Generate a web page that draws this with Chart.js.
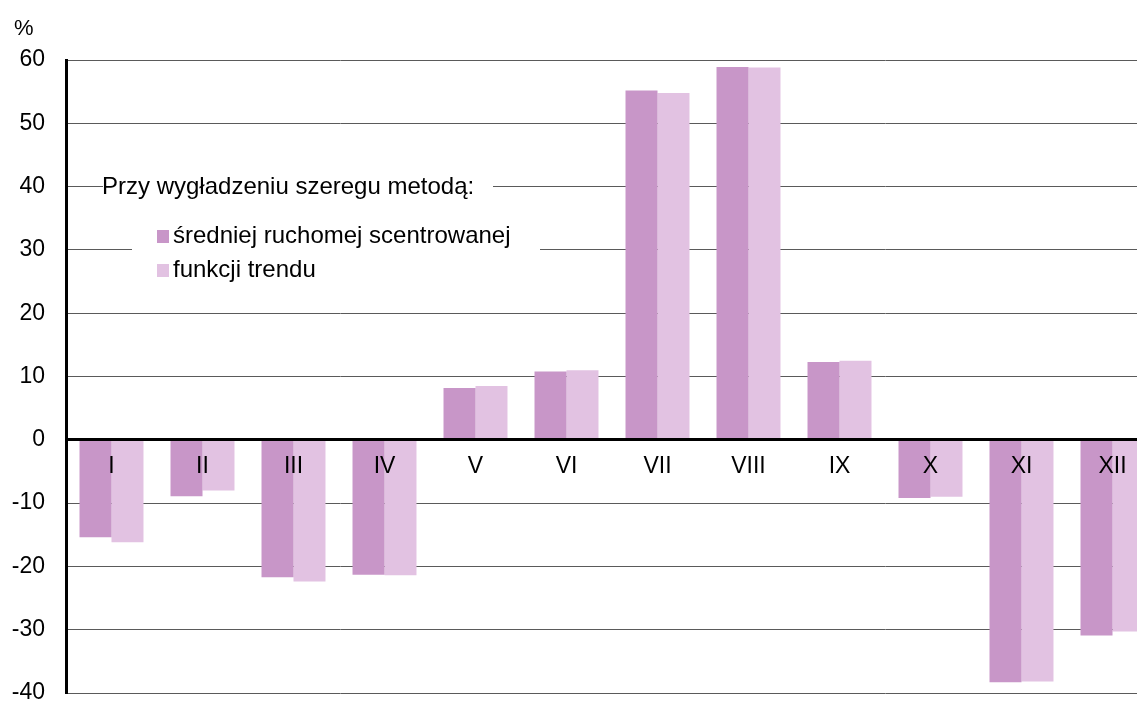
<!DOCTYPE html>
<html>
<head>
<meta charset="utf-8">
<script src="https://cdn.jsdelivr.net/npm/chart.js@4/dist/chart.umd.min.js"></script>
<style>
  html, body { margin: 0; padding: 0; background: #fff; overflow: hidden; width: 1137px; height: 702px; }
  #wrap { width: 1160px; height: 702px; }
</style>
</head>
<body>
<div id="wrap"><canvas id="c" width="1160" height="702"></canvas></div>
<script>
const categories = ['I', 'II', 'III', 'IV', 'V', 'VI', 'VII', 'VIII', 'IX', 'X', 'XI', 'XII'];
const seriesNames = ['średniej ruchomej scentrowanej', 'funkcji trendu'];
const movingAverage = [-15.4, -8.9, -21.7, -21.3, 8.2, 10.8, 55.2, 58.9, 12.3, -9.2, -38.3, -30.9];
const trendFunction = [-16.2, -8.0, -22.4, -21.4, 8.5, 11.0, 54.8, 58.8, 12.5, -9.0, -38.2, -30.3];
const yTicks = [60, 50, 40, 30, 20, 10, 0, -10, -20, -30, -40];
const legendTitle = 'Przy wygładzeniu szeregu metodą:';
const unitLabel = '%';
const colors = ['#C896C8', '#E2C2E2'];

const FONT = '"Liberation Sans", Arial, sans-serif';

const legendPlugin = {
  id: 'customLegend',
  beforeDatasetsDraw(chart) {
    const ctx = chart.ctx;
    ctx.save();
    ctx.fillStyle = '#fff';
    ctx.fillRect(103, 172, 390, 28);
    ctx.fillRect(132, 205, 408, 90);
    ctx.fillStyle = '#000';
    ctx.font = '24px ' + FONT;
    ctx.textBaseline = 'middle';
    ctx.textAlign = 'left';
    ctx.fillText(legendTitle, 102, 187);
    const items = [[236, 0], [270, 1]];
    items.forEach(([y, i]) => {
      ctx.fillStyle = colors[i];
      ctx.fillRect(157, y - 6, 12, 13);
      ctx.fillStyle = '#000';
      ctx.fillText(seriesNames[i], 173, y);
    });
    ctx.restore();
  },
  afterDraw(chart) {
    const ctx = chart.ctx;
    ctx.save();
    ctx.fillStyle = '#000';
    ctx.font = '22px ' + FONT;
    ctx.textBaseline = 'middle';
    ctx.textAlign = 'left';
    ctx.fillText(unitLabel, 14, 29);
    ctx.restore();
  }
};

new Chart(document.getElementById('c'), {
  type: 'bar',
  data: {
    labels: categories,
    datasets: [
      { label: seriesNames[0], data: movingAverage, backgroundColor: colors[0], borderWidth: 0 },
      { label: seriesNames[1], data: trendFunction, backgroundColor: colors[1], borderWidth: 0 }
    ]
  },
  options: {
    responsive: false,
    animation: false,
    devicePixelRatio: 1,
    layout: { padding: { top: 60, bottom: 9, left: 0, right: 2 } },
    plugins: { legend: { display: false }, tooltip: { enabled: false } },
    datasets: { bar: { categoryPercentage: 0.703, barPercentage: 1.0 } },
    scales: {
      x: {
        position: { y: 0 },
        afterFit(scale) { scale.height = 0; scale.paddingLeft = 0; scale.paddingRight = 0; },
        grid: { display: false, drawTicks: false },
        border: { display: true, color: '#000', width: 3, z: 1 },
        ticks: { z: 1, color: '#000', font: { family: FONT, size: 23 }, padding: 13, maxRotation: 0, autoSkip: false }
      },
      y: {
        min: -40, max: 60,
        afterBuildTicks(scale) { scale.ticks = yTicks.map(v => ({ value: v })); },
        afterFit(scale) { scale.width = 66; scale.paddingTop = 0; scale.paddingBottom = 0; },
        grid: { color: '#5a5a5a', lineWidth: 1, drawTicks: false },
        border: { display: true, color: '#000', width: 3 },
        ticks: { color: '#000', font: { family: FONT, size: 23 }, padding: 21 }
      }
    }
  },
  plugins: [legendPlugin]
});
</script>
</body>
</html>
